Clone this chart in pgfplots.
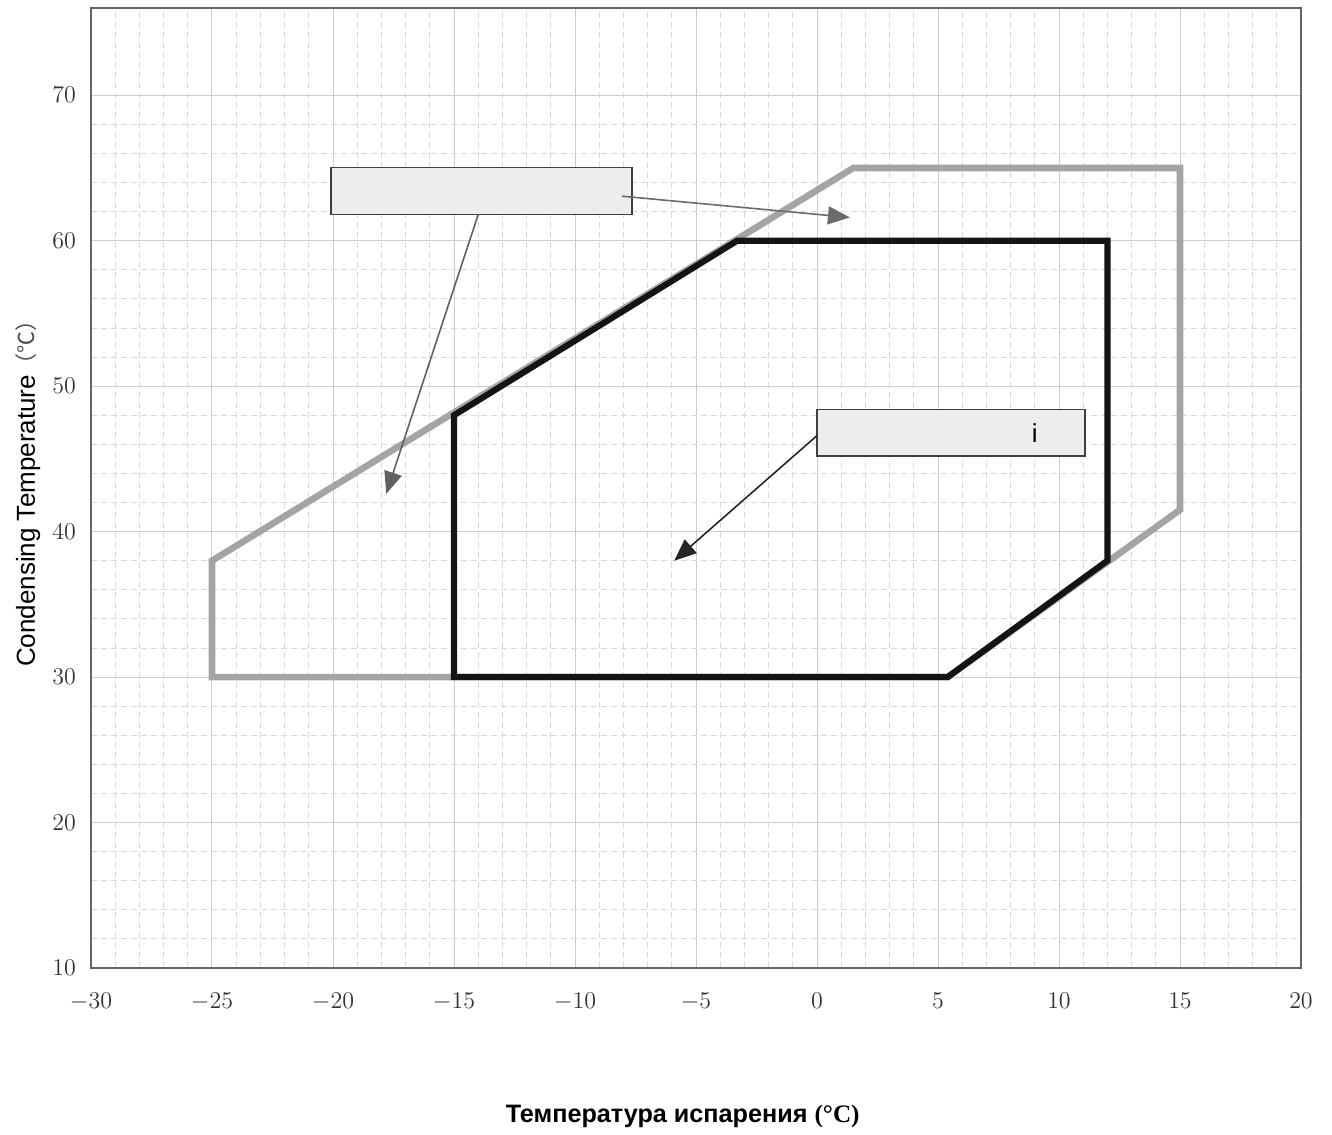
\documentclass[border=0pt]{standalone}
\usepackage{fontspec}
\setsansfont{Liberation Sans}
\newfontfamily\serifb{Liberation Serif}
\newfontfamily\cjk{Noto Sans CJK SC}
\usepackage{pgfplots}
\pgfplotsset{compat=1.18}
\usetikzlibrary{arrows.meta}
\definecolor{envgray}{HTML}{A4A4A4}
\definecolor{boxfill}{HTML}{EDEDED}
\begin{document}
\begin{tikzpicture}
\begin{axis}[
  scale only axis, width=605pt, height=480pt,
  xmin=-30, xmax=20, ymin=10, ymax=76,
  xtick={-30,-25,...,20}, ytick={10,20,...,70},
  minor x tick num=4, minor y tick num=4,
  grid=both,
  major grid style={color=black!20, line width=0.5pt},
  minor grid style={color=black!15, dash pattern=on 3pt off 2pt, line width=0.4pt},
  axis line style={color=black!60, line width=1.4pt},
  major tick length=0pt, minor tick length=0pt,
  tick label style={font=\fontsize{11.5}{13}\selectfont, color=black!80},
  xticklabel style={yshift=-9pt},
  yticklabel style={xshift=-4pt},
  every axis y label/.style={at={(axis description cs:-0.052,0.5)},rotate=90,anchor=center},
  every axis x label/.style={at={(axis description cs:0.489,-0.155)},anchor=center},
  ylabel={\sffamily\fontsize{13}{15}\selectfont Condensing Temperature{\cjk\fontsize{11}{13}\selectfont\color{black!70}（℃）}},
  xlabel={\sffamily\bfseries\fontsize{12.6}{14}\selectfont Температура испарения {\serifb\bfseries(°C)}},
]
% outer envelope (gray)
\addplot[color=envgray, line width=3.3pt, line join=miter, mark=none]
  coordinates {(-25,30) (-25,38) (1.5,65) (15,65) (15,41.5) (5.4,30)} -- cycle;
% inner envelope (black)
\addplot[color=black!92, line width=3.1pt, line join=miter, mark=none]
  coordinates {(-15,30) (-15,48) (-3.3,60) (12,60) (12,38) (5.4,30)} -- cycle;
% annotation boxes
\draw[fill=boxfill, draw=black!75, line width=0.7pt] (axis cs:-20.08,61.8) rectangle (axis cs:-7.64,65.05);
\draw[fill=boxfill, draw=black!75, line width=0.7pt] (axis cs:0,45.2) rectangle (axis cs:11.07,48.4);
\node[font=\sffamily\fontsize{13}{15}\selectfont] at (axis cs:9.0,46.8) {i};
% arrows
\draw[-{Triangle[length=11pt,width=9pt]}, color=black!58, line width=0.8pt]
  (axis cs:-8.06,63.06) -- (axis cs:1.36,61.6);
\draw[-{Triangle[length=11pt,width=9pt]}, color=black!62, line width=0.8pt]
  (axis cs:-14.0,61.8) -- (axis cs:-17.8,42.6);
\draw[-{Triangle[length=11pt,width=9pt]}, color=black!85, line width=0.8pt]
  (axis cs:0,46.6) -- (axis cs:-5.9,38.0);
\end{axis}
\path (current axis.south west) ++(-45.5pt,-83.5pt) rectangle ([shift={(15.5pt,4pt)}]current axis.north east);
\end{tikzpicture}
\end{document}
